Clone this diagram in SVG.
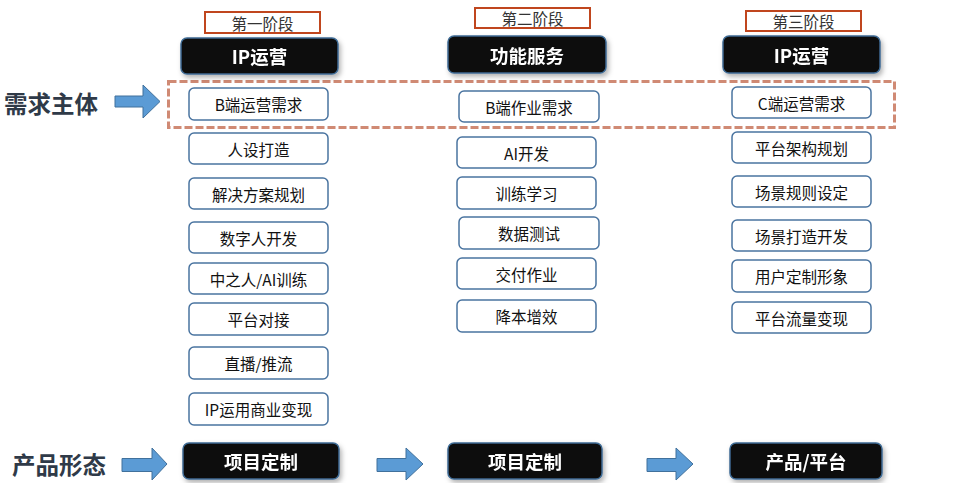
<svg xmlns="http://www.w3.org/2000/svg" width="953" height="483" viewBox="0 0 953 483">
<style>
.bg{fill:#ffffff}
.stage rect{fill:#ffffff;stroke:#C0461E;stroke-width:2}
.stage text{font-family:"Noto Sans CJK SC","Microsoft YaHei",sans-serif;font-size:15.5px;fill:#333333;text-anchor:middle;dominant-baseline:central}
.head rect{fill:#0b0b0b;stroke:#3E6A94;stroke-width:1.5}
.head text{font-family:"Noto Sans CJK SC",sans-serif;font-weight:bold;font-size:18.5px;fill:#ffffff;text-anchor:middle;dominant-baseline:central}
.node rect{fill:#ffffff;stroke:#4A74A0;stroke-width:1.5}
.node text{font-family:"Noto Sans CJK SC",sans-serif;font-size:15.5px;fill:#111111;text-anchor:middle;dominant-baseline:central}
.side{font-family:"Noto Sans CJK SC",sans-serif;font-weight:bold;font-size:23.5px;fill:#2F3A48;dominant-baseline:central}
.arrow{fill:#5B9BD5;stroke:#41719C;stroke-width:1}
</style>
<defs>
<filter id="sh" x="-10%" y="-20%" width="125%" height="150%">
<feDropShadow dx="2" dy="3" stdDeviation="2.5" flood-color="#000000" flood-opacity="0.3"/>
</filter>
</defs>
<rect class="bg" x="0" y="0" width="953" height="483"/>

<g id="side-labels">
<text class="side" x="4" y="103">需求主体</text>
<text class="side" x="12" y="464">产品形态</text>
</g>

<g id="connectors">
<polygon class="arrow" points="115,96 143,96 143,85 160,101.5 143,118 143,107 115,107"/>
<polygon class="arrow" points="122,458.5 152,458.5 152,448 167,464 152,480 152,471.5 122,471.5"/>
<polygon class="arrow" points="377,458.5 406,458.5 406,448 423,464 406,480 406,471.5 377,471.5"/>
<polygon class="arrow" points="647,458.5 676,458.5 676,448 693,464 676,480 676,471.5 647,471.5"/>
</g>

<g id="demand-frame">
<rect x="168.5" y="81.5" width="726" height="46" fill="none" stroke="#D08A74" stroke-width="3" stroke-dasharray="8 3"/>
</g>

<g id="stage1" class="stage"><rect x="205" y="12" width="115" height="21"/><text x="262.5" y="22.5">第一阶段</text></g>
<g id="stage2" class="stage"><rect x="475" y="8" width="115" height="20"/><text x="532.5" y="18">第二阶段</text></g>
<g id="stage3" class="stage"><rect x="746" y="11" width="115" height="20"/><text x="803.5" y="21">第三阶段</text></g>

<g id="head1" class="head" filter="url(#sh)"><rect x="181" y="38" width="157" height="36" rx="6"/><text x="259.5" y="56">IP运营</text></g>
<g id="head2" class="head" filter="url(#sh)"><rect x="448" y="36" width="158" height="37" rx="6"/><text x="527" y="54.5">功能服务</text></g>
<g id="head3" class="head" filter="url(#sh)"><rect x="723" y="36" width="157" height="37" rx="6"/><text x="801.5" y="54.5">IP运营</text></g>

<g id="c1n1" class="node"><rect x="189" y="88" width="139" height="32" rx="5"/><text x="258.5" y="104">B端运营需求</text></g>
<g id="c1n2" class="node"><rect x="189" y="133" width="139" height="31" rx="5"/><text x="258.5" y="148.5">人设打造</text></g>
<g id="c1n3" class="node"><rect x="189" y="178" width="139" height="31" rx="5"/><text x="258.5" y="193.5">解决方案规划</text></g>
<g id="c1n4" class="node"><rect x="189" y="222" width="139" height="31" rx="5"/><text x="258.5" y="237.5">数字人开发</text></g>
<g id="c1n5" class="node"><rect x="189" y="263" width="139" height="31" rx="5"/><text x="258.5" y="278.5">中之人/AI训练</text></g>
<g id="c1n6" class="node"><rect x="189" y="303" width="139" height="32" rx="5"/><text x="258.5" y="319">平台对接</text></g>
<g id="c1n7" class="node"><rect x="189" y="347" width="139" height="32" rx="5"/><text x="258.5" y="363">直播/推流</text></g>
<g id="c1n8" class="node"><rect x="189" y="393" width="139" height="32" rx="5"/><text x="258.5" y="409">IP运用商业变现</text></g>

<g id="c2n1" class="node"><rect x="459" y="91" width="140" height="31" rx="5"/><text x="529" y="106.5">B端作业需求</text></g>
<g id="c2n2" class="node"><rect x="457" y="137" width="139" height="31" rx="5"/><text x="526.5" y="152.5">AI开发</text></g>
<g id="c2n3" class="node"><rect x="457" y="177" width="139" height="32" rx="5"/><text x="526.5" y="193">训练学习</text></g>
<g id="c2n4" class="node"><rect x="459" y="217" width="140" height="32" rx="5"/><text x="529" y="233">数据测试</text></g>
<g id="c2n5" class="node"><rect x="457" y="258" width="139" height="31" rx="5"/><text x="526.5" y="273.5">交付作业</text></g>
<g id="c2n6" class="node"><rect x="457" y="300" width="139" height="32" rx="5"/><text x="526.5" y="316">降本增效</text></g>

<g id="c3n1" class="node"><rect x="732" y="87" width="139" height="31" rx="5"/><text x="801.5" y="102.5">C端运营需求</text></g>
<g id="c3n2" class="node"><rect x="732" y="132" width="139" height="31" rx="5"/><text x="801.5" y="147.5">平台架构规划</text></g>
<g id="c3n3" class="node"><rect x="732" y="176" width="139" height="31" rx="5"/><text x="801.5" y="191.5">场景规则设定</text></g>
<g id="c3n4" class="node"><rect x="732" y="220" width="139" height="31" rx="5"/><text x="801.5" y="235.5">场景打造开发</text></g>
<g id="c3n5" class="node"><rect x="732" y="260" width="139" height="32" rx="5"/><text x="801.5" y="276">用户定制形象</text></g>
<g id="c3n6" class="node"><rect x="732" y="302" width="139" height="31" rx="5"/><text x="801.5" y="317.5">平台流量变现</text></g>

<g id="prod1" class="head" filter="url(#sh)"><rect x="183" y="443" width="156" height="36" rx="6"/><text x="261" y="461">项目定制</text></g>
<g id="prod2" class="head" filter="url(#sh)"><rect x="448" y="443" width="154" height="36" rx="6"/><text x="525" y="461">项目定制</text></g>
<g id="prod3" class="head" filter="url(#sh)"><rect x="730" y="443" width="152" height="36" rx="6"/><text x="806" y="461">产品/平台</text></g>
</svg>
